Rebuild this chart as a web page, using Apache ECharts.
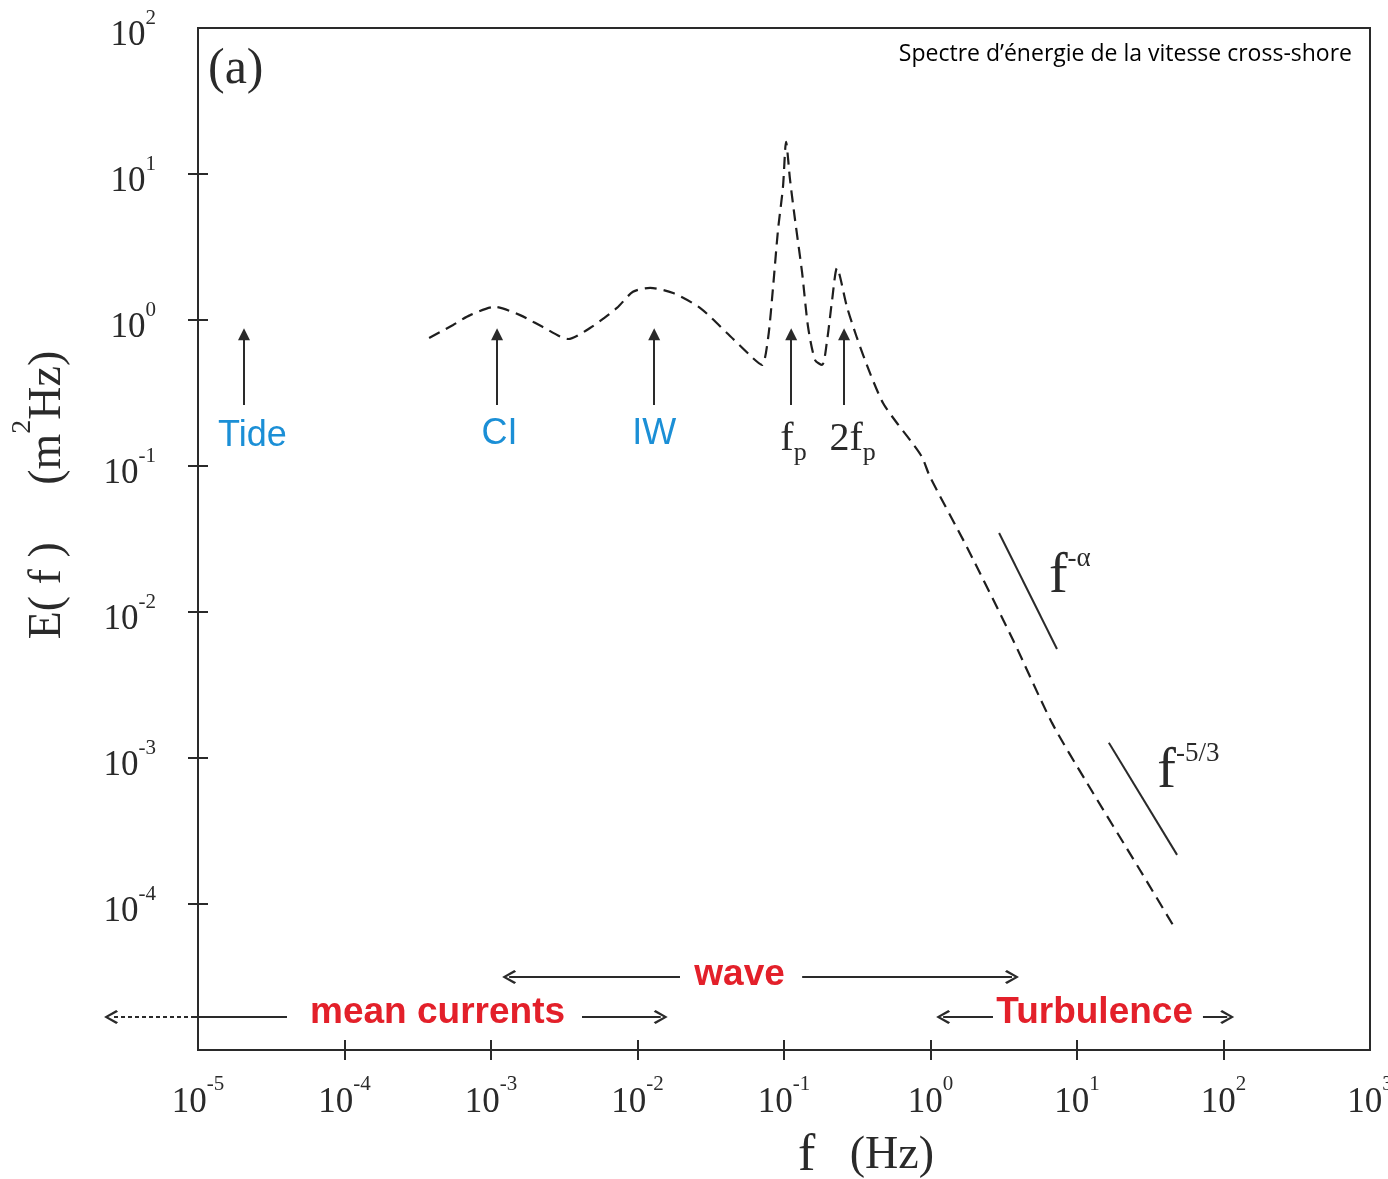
<!DOCTYPE html>
<html>
<head>
<meta charset="utf-8">
<title>Spectre d'énergie de la vitesse cross-shore</title>
<script src="https://cdn.jsdelivr.net/npm/echarts@6.0.0/dist/echarts.min.js"></script>
<style>
  html, body { margin: 0; padding: 0; background: #fff; }
  #chart { width: 1388px; height: 1179px; }
</style>
</head>
<body>
<div id="chart"></div>
<script>
var serif = '"Liberation Serif", "Times New Roman", serif';
var sans = '"Liberation Sans", Arial, sans-serif';
var ink = '#2a2a2a';
var red = '#e3202a';
var blue = '#1b8fd6';

// decades on each axis
var xExponents = [-5, -4, -3, -2, -1, 0, 1, 2, 3];
var yExponents = [-5, -4, -3, -2, -1, 0, 1, 2];

// cross-shore velocity spectrum (f in Hz, E in m2/Hz)
var freq = [3.78e-4, 5.51e-4, 7.20e-4, 1.06e-3, 1.58e-3, 2.26e-3, 3.36e-3, 4.74e-3, 7.24e-3, 9.31e-3,
            1.22e-2, 1.75e-2, 2.67e-2, 4.08e-2, 6.13e-2, 7.08e-2, 7.79e-2, 8.42e-2, 9.10e-2, 9.84e-2,
            0.1033, 0.110, 0.119, 0.133, 0.146, 0.163, 0.182, 0.197, 0.213, 0.230,
            0.269, 0.315, 0.386, 0.474, 0.590, 0.724, 0.875, 0.993, 1.77, 3.66,
            6.75, 11.7, 26.9, 45.2];
var energy = [0.753, 0.925, 1.08, 1.23, 1.08, 0.895, 0.741, 0.881, 1.21, 1.56,
              1.66, 1.53, 1.21, 0.815, 0.549, 0.492, 0.753, 1.68, 4.13, 8.15,
              16.6, 9.10, 4.84, 2.10, 0.895, 0.532, 0.492, 0.730, 1.37, 2.27,
              1.23, 0.753, 0.434, 0.270, 0.197, 0.151, 0.115, 0.0841, 0.0279, 6.43e-3,
              1.74e-3, 6.75e-4, 1.71e-4, 7.18e-5];

// vertical arrows for the characteristic frequencies
var markerNames = ['Tide', 'CI', 'IW', 'fp', '2fp'];
var markerFreq = [2.06e-5, 1.10e-3, 1.30e-2, 0.112, 0.257];
var markerBase = 0.262;
var markerTip = 0.80;
var markerLabelFreq = [2.37e-5, 1.15e-3, 1.31e-2, 0.117, 0.296];
var markerLabelE = [0.158, 0.163, 0.163, 0.151, 0.151];

// slope guides f^-alpha and f^-5/3
var slopeFreq = [[2.94, 7.30], [16.5, 48.2]];
var slopeEnergy = [[0.0348, 5.58e-3], [1.27e-3, 2.17e-4]];
var slopeLabels = ['-α', '-5/3'];
var slopeLabelFreq = [9.0, 58.0];
var slopeLabelE = [0.0171, 7.89e-4];

// frequency bands along the bottom
var bandNames = ['wave', 'mean currents', 'Turbulence'];
var bandLabelFreq = [0.0501, 4.35e-4, 13.3];
var bandLabelE = [3.27e-5, 1.79e-5, 1.79e-5];
var bandLineE = [3.16e-5, 1.68e-5, 1.68e-5];
// each arrow is [tail, head] in Hz
var bandArrows = [
  [[1.95e-2, 1.33e-3], [0.133, 3.60]],
  [[4.18e-3, 1.44e-2]],
  [[2.67, 1.22], [72.4, 106]]
];
var meanDotted = [9.54e-6, 2.55e-6];
var meanSolid = [9.54e-6, 4.05e-5];

var chevron = 'path://M0,10 L8,0 L16,10 L14,11.5 L8,3.5 L2,11.5 Z';

function decadeValues(exps) {
  return exps.slice(1, -1).map(function (e) { return Math.pow(10, e); });
}

function powLabel(v) {
  var e = Math.round(Math.log(v) / Math.LN10);
  return '{b|10}{e|' + e + '}';
}
var powRich = {
  b: {fontFamily: serif, fontSize: 35, color: ink, padding: [16, 0, 0, 0]},
  e: {fontFamily: serif, fontSize: 21, color: ink, padding: [0, 0, 20, 0]}
};

var xMin = Math.pow(10, xExponents[0]), xMax = Math.pow(10, xExponents[xExponents.length - 1]);
var yMin = Math.pow(10, yExponents[0]), yMax = Math.pow(10, yExponents[yExponents.length - 1]);
var tickStyle = {color: ink, width: 2};

var chart = echarts.init(document.getElementById('chart'));

// arrows and guides
var arrowData = markerFreq.map(function (f) {
  return {coords: [[f, markerBase], [f, markerTip]]};
});
var bandData = [];
bandArrows.forEach(function (list, i) {
  list.forEach(function (a) {
    bandData.push({coords: [[a[0], bandLineE[i]], [a[1], bandLineE[i]]]});
  });
});
var plainData = slopeFreq.map(function (fs, i) {
  return {coords: [[fs[0], slopeEnergy[i][0]], [fs[1], slopeEnergy[i][1]]]};
});
plainData.push({coords: [[meanSolid[0], bandLineE[1]], [meanSolid[1], bandLineE[1]]]});

// text annotations placed in data space
var textData = [];
markerNames.forEach(function (n, i) {
  var lab;
  if (i < 3) {
    lab = {formatter: n, color: blue, fontFamily: sans, fontSize: 36};
  } else {
    lab = {
      formatter: '{f|' + n.slice(0, -1) + '}{p|p}',
      rich: {
        f: {fontFamily: serif, fontSize: 40, color: ink},
        p: {fontFamily: serif, fontSize: 26, color: ink, padding: [28, 0, 0, 0]}
      }
    };
  }
  textData.push({value: [markerLabelFreq[i], markerLabelE[i]], label: lab});
});
slopeLabels.forEach(function (s, i) {
  textData.push({
    value: [slopeLabelFreq[i], slopeLabelE[i]],
    label: {
      formatter: '{f|f}{e|' + s + '}',
      rich: {
        f: {fontFamily: serif, fontSize: 56, color: ink},
        e: {fontFamily: serif, fontSize: 27, color: ink, padding: [0, 0, 38, 0]}
      }
    }
  });
});
bandNames.forEach(function (n, i) {
  textData.push({
    value: [bandLabelFreq[i], bandLabelE[i]],
    label: {formatter: n, color: red, fontFamily: sans, fontWeight: 'bold', fontSize: 37}
  });
});

var option = {
  animation: false,
  title: [
    {text: '(a)', left: 203, top: 40,
     textStyle: {fontFamily: serif, fontSize: 50, fontWeight: 'normal', color: ink}},
    {text: 'Spectre d\u2019énergie de la vitesse cross-shore', right: 31, top: 38,
     textStyle: {fontFamily: '"Open Sans", sans-serif', fontSize: 23, fontWeight: 'normal', color: '#000'}}
  ],
  grid: {
    left: 198, right: 18, top: 28, bottom: 129,
    show: true, borderColor: ink, borderWidth: 2,
    containLabel: false, outerBoundsMode: 'none'
  },
  xAxis: [{
    type: 'log', logBase: 10, min: xMin, max: xMax,
    position: 'bottom',
    name: '{f|f}{a|   (Hz)}',
    nameLocation: 'middle', nameGap: 80,
    nameTextStyle: {
      padding: [0, 0, 0, 164],
      rich: {
        f: {fontFamily: serif, fontSize: 52, color: ink},
        a: {fontFamily: serif, fontSize: 46, color: ink}
      }
    },
    axisLine: {onZero: false, lineStyle: tickStyle},
    axisTick: {length: 10, lineStyle: tickStyle, customValues: decadeValues(xExponents)},
    axisLabel: {formatter: powLabel, rich: powRich, margin: 19},
    splitLine: {show: false}, minorTick: {show: false}
  }, {
    type: 'log', logBase: 10, min: xMin, max: xMax,
    position: 'bottom', offset: 0,
    axisLine: {show: false},
    axisTick: {inside: true, length: 10, lineStyle: tickStyle, customValues: decadeValues(xExponents)},
    axisLabel: {show: false},
    splitLine: {show: false}
  }],
  yAxis: [{
    type: 'log', logBase: 10, min: yMin, max: yMax,
    position: 'left',
    name: '{a|E( f )     (m}{s|2}{a|Hz)}',
    nameLocation: 'middle', nameRotate: 90, nameGap: 111,
    nameTextStyle: {
      padding: [0, 0, 0, 88],
      rich: {
        a: {fontFamily: serif, fontSize: 46, color: ink},
        s: {fontFamily: serif, fontSize: 28, color: ink, padding: [0, 0, 50, 0]}
      }
    },
    axisLine: {onZero: false, lineStyle: tickStyle},
    axisTick: {length: 10, lineStyle: tickStyle, customValues: decadeValues(yExponents)},
    axisLabel: {formatter: powLabel, rich: powRich, margin: 42, showMinLabel: false},
    splitLine: {show: false}, minorTick: {show: false}
  }, {
    type: 'log', logBase: 10, min: yMin, max: yMax,
    position: 'left', offset: 0,
    axisLine: {show: false},
    axisTick: {inside: true, length: 10, lineStyle: tickStyle, customValues: decadeValues(yExponents)},
    axisLabel: {show: false},
    splitLine: {show: false}
  }],
  series: [{
    name: 'E(f)',
    type: 'line',
    xAxisIndex: 0, yAxisIndex: 0,
    data: freq.map(function (f, i) { return [f, energy[i]]; }),
    symbol: 'none', smooth: 0.25,
    lineStyle: {color: '#1e1e1e', width: 2.2, type: [12, 7]},
    z: 3
  }, {
    name: 'markers',
    type: 'lines', coordinateSystem: 'cartesian2d',
    xAxisIndex: 0, yAxisIndex: 0,
    symbol: ['none', 'triangle'], symbolSize: 12,
    lineStyle: {color: ink, width: 2, opacity: 1, curveness: 0},
    data: arrowData, silent: true, clip: false, z: 4
  }, {
    name: 'bands',
    type: 'lines', coordinateSystem: 'cartesian2d',
    xAxisIndex: 0, yAxisIndex: 0,
    symbol: ['none', chevron], symbolSize: 14,
    lineStyle: {color: ink, width: 2, opacity: 1, curveness: 0},
    data: bandData, silent: true, clip: false, z: 4
  }, {
    name: 'guides',
    type: 'lines', coordinateSystem: 'cartesian2d',
    xAxisIndex: 0, yAxisIndex: 0,
    symbol: 'none',
    lineStyle: {color: ink, width: 2, opacity: 1, curveness: 0},
    data: plainData, silent: true, clip: false, z: 4
  }, {
    name: 'mean dotted',
    type: 'lines', coordinateSystem: 'cartesian2d',
    xAxisIndex: 0, yAxisIndex: 0,
    symbol: ['none', chevron], symbolSize: 14,
    lineStyle: {color: ink, width: 2, opacity: 1, type: [4, 3], curveness: 0},
    data: [{coords: [[meanDotted[0], bandLineE[1]], [meanDotted[1], bandLineE[1]]]}],
    silent: true, clip: false, z: 4
  }, {
    name: 'text',
    type: 'scatter',
    xAxisIndex: 0, yAxisIndex: 0,
    symbolSize: 1,
    itemStyle: {color: 'rgba(0,0,0,0)', opacity: 1},
    label: {show: true, position: [0, 0], align: 'center', verticalAlign: 'middle', opacity: 1},
    data: textData, silent: true, clip: false, z: 5
  }]
};
chart.setOption(option);
</script>
</body>
</html>
